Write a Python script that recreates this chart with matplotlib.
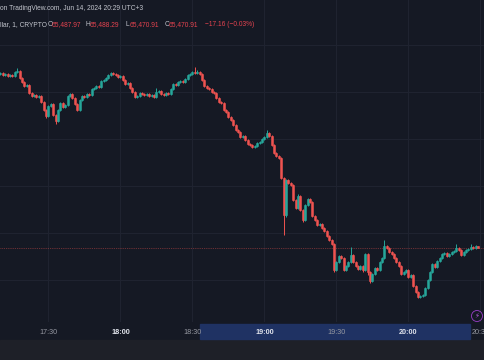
import numpy as np
import pandas as pd
import matplotlib
matplotlib.use("Agg")
import matplotlib.pyplot as plt
import matplotlib.dates as mdates
import matplotlib.transforms as mtransforms
from matplotlib.patches import Rectangle, Circle

plt.rcParams['font.family'] = ['Liberation Sans', 'DejaVu Sans']

# BTC 1-minute candles, 17:10 .. 20:29 (UTC+3)
times = pd.date_range("2024-06-14 17:10", periods=200, freq="min")

closes = [
    66960, 66943, 66952, 66935, 66943, 66935, 66969, 66978, 66918, 66884,
    66850, 66858, 66790, 66765, 66773, 66756, 66765, 66714, 66646, 66595,
    66680, 66697, 66603, 66552, 66646, 66705, 66671, 66688, 66765, 66782,
    66748, 66697, 66646, 66731, 66765, 66756, 66782, 66773, 66824, 66833,
    66850, 66841, 66892, 66901, 66918, 66943, 66960, 66952, 66943, 66926,
    66935, 66901, 66867, 66875, 66833, 66799, 66756, 66765, 66790, 66782,
    66773, 66782, 66765, 66773, 66756, 66799, 66807, 66782, 66773, 66790,
    66782, 66824, 66867, 66858, 66884, 66892, 66884, 66909, 66943, 66952,
    66969, 66960, 66969, 66952, 66901, 66850, 66833, 66824, 66799, 66790,
    66748, 66714, 66705, 66646, 66629, 66586, 66561, 66518, 66476, 66459,
    66416, 66425, 66391, 66357, 66348, 66331, 66340, 66365, 66374, 66399,
    66416, 66450, 66425, 66348, 66280, 66255, 66238, 66068, 65753, 66051,
    66025, 66008, 65881, 65813, 65915, 65796, 65711, 65838, 65889, 65864,
    65745, 65711, 65668, 65677, 65643, 65617, 65575, 65541, 65507, 65286,
    65354, 65405, 65388, 65286, 65320, 65354, 65413, 65354, 65320, 65294,
    65320, 65286, 65422, 65269, 65192, 65252, 65303, 65286, 65354, 65388,
    65490, 65473, 65439, 65422, 65388, 65354, 65320, 65252, 65269, 65286,
    65226, 65243, 65150, 65099, 65056, 65065, 65073, 65133, 65201, 65269,
    65337, 65311, 65362, 65388, 65422, 65430, 65405, 65422, 65439, 65447,
    65473, 65456, 65413, 65439, 65456, 65464, 65481, 65477, 65487.97, 65470.91,
]
opens = [66952] + closes[:-1]

upper_wick = [
    10, 8, 10, 8, 10, 8, 10, 25, 8, 10,
    8, 10, 8, 10, 8, 10, 8, 8, 10, 8,
    12, 10, 8, 10, 10, 8, 10, 8, 10, 10,
    8, 8, 10, 10, 8, 10, 8, 10, 8, 10,
    10, 8, 10, 8, 10, 8, 10, 10, 8, 8,
    10, 8, 8, 10, 8, 8, 8, 10, 8, 10,
    8, 10, 8, 10, 8, 35, 10, 8, 8, 10,
    8, 10, 10, 8, 10, 10, 8, 10, 10, 8,
    10, 45, 15, 10, 8, 8, 8, 8, 8, 8,
    8, 8, 8, 8, 8, 10, 8, 8, 8, 8,
    8, 10, 8, 8, 8, 8, 10, 10, 8, 10,
    10, 25, 10, 8, 8, 8, 8, 8, 10, 10,
    8, 10, 8, 8, 20, 10, 8, 10, 10, 10,
    8, 8, 8, 10, 8, 8, 8, 8, 8, 8,
    10, 10, 10, 8, 10, 10, 70, 10, 8, 8,
    10, 8, 12, 10, 8, 10, 10, 8, 10, 10,
    50, 10, 8, 8, 8, 8, 8, 8, 10, 10,
    8, 10, 8, 8, 8, 10, 10, 10, 10, 10,
    10, 10, 10, 10, 10, 8, 10, 10, 10, 10,
    35, 8, 8, 10, 10, 10, 30, 10, 10, 0.32,
]
lower_wick = [
    8, 10, 8, 10, 8, 10, 8, 8, 10, 8,
    10, 8, 10, 8, 10, 8, 10, 10, 8, 20,
    10, 8, 10, 25, 10, 10, 8, 10, 8, 8,
    10, 10, 10, 8, 10, 8, 10, 8, 10, 8,
    8, 10, 8, 10, 8, 10, 8, 8, 10, 10,
    8, 10, 10, 8, 10, 10, 10, 8, 10, 8,
    10, 8, 10, 8, 10, 10, 8, 10, 10, 8,
    10, 8, 8, 10, 8, 8, 10, 8, 8, 10,
    8, 8, 10, 8, 10, 10, 10, 10, 10, 10,
    10, 10, 10, 10, 10, 8, 10, 10, 10, 10,
    10, 8, 10, 10, 10, 10, 8, 10, 10, 8,
    8, 8, 8, 10, 10, 10, 10, 10, 170, 20,
    10, 10, 10, 10, 10, 10, 20, 10, 8, 10,
    10, 10, 10, 10, 10, 10, 10, 10, 10, 20,
    10, 10, 10, 10, 10, 10, 10, 10, 10, 10,
    10, 20, 10, 25, 20, 10, 10, 10, 10, 10,
    10, 10, 8, 8, 10, 10, 10, 10, 10, 10,
    10, 10, 10, 10, 10, 10, 10, 10, 10, 10,
    10, 8, 10, 10, 10, 8, 10, 10, 10, 10,
    10, 10, 10, 10, 10, 10, 10, 10, 10, 0,
]

tick_times = pd.to_datetime(["2024-06-14 17:30", "2024-06-14 18:00", "2024-06-14 18:30",
                             "2024-06-14 19:00", "2024-06-14 19:30", "2024-06-14 20:00",
                             "2024-06-14 20:30"])
tick_labels = ["17:30", "18:00", "18:30", "19:00", "19:30", "20:00", "20:30"]
grid_prices = [65200, 65600, 66000, 66400, 66800, 67200]
range_start = pd.Timestamp("2024-06-14 18:33:10")
range_end = pd.Timestamp("2024-06-14 20:25:40")

bg = "#151924"
grid = "#1f2330"
up = "#26a69a"
down = "#ef5350"

W, H = 485, 360
fig = plt.figure(figsize=(W / 100, H / 100), dpi=100, facecolor=bg)
ax = fig.add_axes([0, 1 - 322 / H, 1, 322 / H])
ax.set_facecolor(bg)
for s in ax.spines.values():
    s.set_visible(False)
ax.set_xticks([])
ax.set_yticks([])

x = mdates.date2num(times)
minute = 1 / 1440
ax.set_xlim(x[0] - 0.167 * minute, x[0] + 201.9 * minute)
ax.set_ylim(64844, 67581)

for t in tick_times:
    ax.axvline(mdates.date2num(t), color=grid, lw=0.8, zorder=0)
for p in grid_prices:
    ax.axhline(p, color=grid, lw=0.8, zorder=0)

o = np.array(opens, dtype=float)
c = np.array(closes, dtype=float)
hi = np.maximum(o, c) + np.array(upper_wick)
lo = np.minimum(o, c) - np.array(lower_wick)
colors = np.where(c >= o, up, down)
ax.vlines(x, lo, hi, colors=colors, lw=0.7, zorder=2)
ax.bar(x, c - o, bottom=o, width=0.8 * minute, color=colors,
       edgecolor=colors, lw=0.4, zorder=3)

# last price line
ax.axhline(closes[-1], color=down, lw=0.6, ls=(0, (1, 1.2)), alpha=0.55, zorder=1)

# time axis
fig.add_artist(Rectangle((0, 0), 1, 20 / H, transform=fig.transFigure,
                         color="#1e2028", zorder=0))
trans = mtransforms.blended_transform_factory(ax.transData, fig.transFigure)
xs, xe = mdates.date2num(range_start), mdates.date2num(range_end)
fig.add_artist(Rectangle((xs, 1 - 339 / H), xe - xs, 15 / H, transform=trans,
                         color="#1f3263", zorder=1))
for t, lab in zip(tick_times, tick_labels):
    bold = lab.endswith(":00")
    fig.text(mdates.date2num(t), 1 - 332 / H, lab, transform=trans,
             ha="center", va="center", fontsize=5.2,
             fontweight="bold" if bold else "normal",
             color="#e0e3eb" if bold else "#9598a1", zorder=3)

# header
def px(xp, yp):
    return xp / W, 1 - yp / H

fig.text(*px(0, 8), "on TradingView.com, Jun 14, 2024 20:29 UTC+3",
         fontsize=4.8, color="#c3c6ce", va="center", ha="left")
gray = "#c3c6ce"
red = "#e5434f"
pieces = [
    (0, "llar, 1, CRYPTO", gray),
    (48, "O", gray), (52, f"{opens[-1]:,.2f}", red),
    (86, "H", gray), (90, f"{hi[-1]:,.2f}", red),
    (126, "L", gray), (130, f"{lo[-1]:,.2f}", red),
    (165, "C", gray), (169, f"{closes[-1]:,.2f}", red),
    (205, "\u221217.16 (\u22120.03%)", red),
]
for xp, s, col in pieces:
    fig.text(*px(xp, 25), s, fontsize=4.8, color=col, va="center", ha="left")

# small lightning badge
fig.add_artist(Circle((4.77, (H - 316) / 100), 0.055, transform=fig.dpi_scale_trans,
                      facecolor=bg, edgecolor="#9c3fc9", lw=0.6, zorder=4))
fig.text(4.77 / (W / 100), (H - 316) / H, "\u26a1", fontsize=5, color="#b35ad8",
         ha="center", va="center", family="DejaVu Sans", zorder=5)

fig.savefig("out.png", dpi=100, facecolor=bg)
